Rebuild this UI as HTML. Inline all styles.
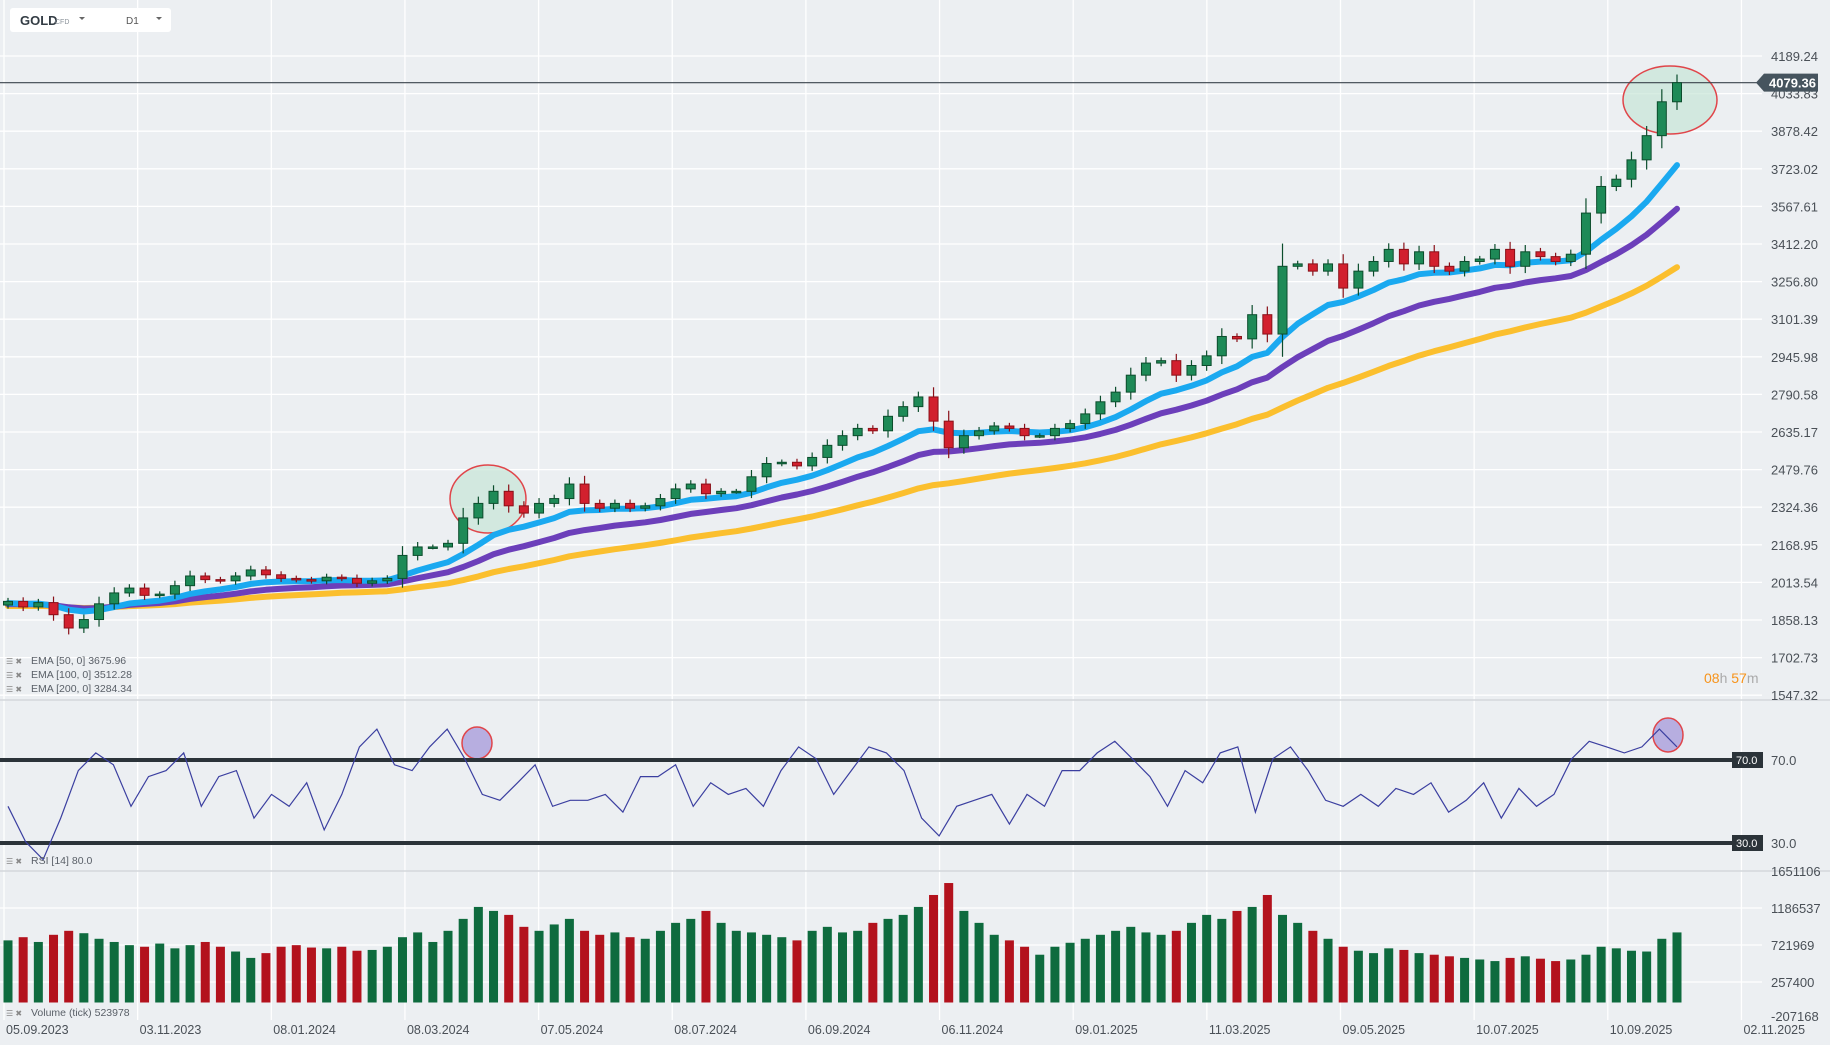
<!DOCTYPE html>
<html><head><meta charset="utf-8">
<style>
html,body{margin:0;padding:0;background:#eceff2;}
svg{display:block;font-family:"Liberation Sans",sans-serif;}
</style></head>
<body>
<svg id="chart" width="1830" height="1045" viewBox="0 0 1830 1045" xmlns="http://www.w3.org/2000/svg">
<rect x="0" y="0" width="1830" height="1045" fill="#eceff2"/>
<g id="grid"></g>
<g id="overlay">
  <ellipse cx="488" cy="499" rx="38" ry="34" fill="rgba(200,230,215,0.7)" stroke="#e0454a" stroke-width="1.5"/>
  <ellipse cx="1670" cy="100" rx="47" ry="34" fill="rgba(200,230,215,0.7)" stroke="#e0454a" stroke-width="1.5"/>
  <ellipse cx="477" cy="743" rx="15" ry="16" fill="rgba(140,120,210,0.55)" stroke="#e0454a" stroke-width="1.5"/>
  <ellipse cx="1668" cy="735" rx="15" ry="17" fill="rgba(140,120,210,0.55)" stroke="#e0454a" stroke-width="1.5"/>
</g>
<g id="priceAxis"></g>
<g id="emas"></g>
<g id="candles"></g>
<g id="rsi"></g>
<g id="volume"></g>
<g id="dates"></g>
<g>
  <rect x="10" y="8" width="161" height="24" rx="3" fill="#ffffff"/>
  <text x="20" y="25" font-size="13" font-weight="bold" fill="#333c44">GOLD</text>
  <text x="55" y="24" font-size="7" fill="#8a9199">CFD</text>
  <path d="M79 17 l6 0 l-3 3 z" fill="#666"/>
  <text x="126" y="24" font-size="10" fill="#555">D1</text>
  <path d="M156 17 l6 0 l-3 3 z" fill="#666"/>
</g>
<g font-size="10.5" fill="#5a6068">
  <text x="6" y="664" font-size="8" fill="#888">☰ ✖</text><text x="31" y="664">EMA [50, 0] 3675.96</text>
  <text x="6" y="678" font-size="8" fill="#888">☰ ✖</text><text x="31" y="678">EMA [100, 0] 3512.28</text>
  <text x="6" y="692" font-size="8" fill="#888">☰ ✖</text><text x="31" y="692">EMA [200, 0] 3284.34</text>
  <text x="6" y="864" font-size="8" fill="#888">☰ ✖</text><text x="31" y="864">RSI [14] 80.0</text>
  <text x="6" y="1016" font-size="8" fill="#888">☰ ✖</text><text x="31" y="1016">Volume (tick) 523978</text>
</g>
<text x="1704" y="683" font-size="14"><tspan fill="#f7931a">08</tspan><tspan fill="#aaa">h </tspan><tspan fill="#f7931a">57</tspan><tspan fill="#aaa">m</tspan></text>
</svg>
<script>
const closes=[1935,1912,1930,1880,1825,1860,1925,1970,1990,1960,1965,2000,2040,2025,2020,2040,2065,2045,2030,2025,2020,2035,2030,2010,2020,2030,2125,2160,2160,2175,2280,2340,2390,2330,2300,2340,2360,2420,2340,2320,2340,2320,2330,2360,2400,2420,2380,2390,2390,2450,2505,2510,2495,2530,2580,2620,2650,2640,2700,2740,2780,2680,2570,2620,2640,2660,2650,2620,2620,2650,2670,2710,2760,2800,2870,2920,2930,2870,2910,2950,3030,3020,3120,3040,3320,3330,3300,3330,3230,3300,3340,3390,3330,3380,3320,3300,3340,3350,3390,3320,3380,3360,3340,3370,3540,3650,3680,3760,3860,4000,4079];
const volumes=[780,820,760,850,900,870,800,760,720,700,740,680,720,760,700,640,560,620,700,720,690,680,700,650,660,700,820,880,760,900,1050,1200,1150,1100,950,900,980,1050,900,850,880,820,800,900,1000,1050,1150,1000,900,880,850,820,780,900,950,880,900,1000,1050,1100,1200,1350,1500,1150,1000,850,780,700,600,700,750,800,850,900,950,880,850,900,1000,1100,1050,1150,1200,1350,1100,1000,900,800,700,650,620,680,660,620,600,580,560,540,520,560,580,550,520,540,600,700,680,650,640,800,880];
const rsiValues=[47.7,30.6,22,42,64.9,73.4,67.7,47.7,62,64.9,73.4,47.7,62,64.9,42,53.4,47.7,59,36.3,53.4,76.3,84.9,67.7,64.9,76.3,84.9,70.6,53.4,50.6,59,67.7,47.7,50.6,50.6,53.4,44.9,62,62,67.7,47.7,59,53.4,56.3,47.7,64.9,76.3,70.6,53.4,64.9,76.3,73.4,64.9,42,33.4,47.7,50.6,53.4,39.1,53.4,47.7,64.9,64.9,73.4,79,70.6,62,47.7,64.9,59,73.4,76.3,44.9,70.6,76.3,64.9,50.6,47.7,53.4,47.7,56.3,53.4,59,44.9,50.6,59,42,56.3,47.7,53.4,70.6,79,76.3,73.4,76.3,84.9,76.3];
const priceTicks=["4189.24","4033.83","3878.42","3723.02","3567.61","3412.20","3256.80","3101.39","2945.98","2790.58","2635.17","2479.76","2324.36","2168.95","2013.54","1858.13","1702.73","1547.32"];
const dateLabels=["05.09.2023","03.11.2023","08.01.2024","08.03.2024","07.05.2024","08.07.2024","06.09.2024","06.11.2024","09.01.2025","11.03.2025","09.05.2025","10.07.2025","10.09.2025","02.11.2025"];
const volTicks=["1651106","1186537","721969","257400","-207168"];
const emaPeriods=[50,100,200];
const emaStart=[1928,1924,1916];

const NS="http://www.w3.org/2000/svg";
function mk(tag,attrs,parent,text){const e=document.createElementNS(NS,tag);for(const k in attrs)e.setAttribute(k,attrs[k]);if(text!==undefined)e.textContent=text;parent.appendChild(e);return e;}
const X0=8,X1=1677;
const xs=i=>X0+i*(X1-X0)/(closes.length-1);
const yP=v=>56+(4189.24-v)/155.41*37.6;
const yR=v=>843-(v-30)/40*83;
const yV=v=>1002.5-v/464568*37;

const grid=document.getElementById('grid');
for(let k=0;k<14;k++){const x=4+k*133.65;
  const l=mk('line',{x1:x,y1:0,x2:x,y2:1020,stroke:'#ffffff','stroke-width':1.3},grid);
  }
const pa=document.getElementById('priceAxis');
priceTicks.forEach(t=>{const y=yP(parseFloat(t));
  const l=mk('line',{x1:0,y1:y,x2:1762,y2:y,stroke:'#ffffff','stroke-width':1.3},grid);
  
  const tx=mk('text',{x:1771,y:y+5,'font-size':13,fill:'#4a5057'},pa,t);
  });
[[700,'price-rsi-separator'],[871,'rsi-volume-separator']].forEach(s=>{const l=mk('line',{x1:0,y1:s[0],x2:1830,y2:s[0],stroke:'#d3d7db','stroke-width':1.5},grid);
  });
const vg=document.getElementById('volume');
volTicks.forEach(t=>{const v=parseFloat(t);const y=yV(v);
  if(v<1600000&&v>0){const l=mk('line',{x1:0,y1:y,x2:1762,y2:y,stroke:'#ffffff','stroke-width':1.3},grid);
  }
  const tx=mk('text',{x:1771,y:Math.min(y+5,1021),'font-size':13,fill:'#4a5057'},vg,t);
  });
const cur=closes[closes.length-1];
const cl=mk('line',{x1:0,y1:yP(cur),x2:1765,y2:yP(cur),stroke:'#3b454d','stroke-width':1.2},pa);

const cb=mk('path',{d:`M1756 ${yP(cur)} l8 -9 h54 v18 h-54 z`,fill:'#46545e'},pa);

const ct=mk('text',{x:1769,y:yP(cur)+5,'font-size':13,'font-weight':'bold',fill:'#fff'},pa,"4079.36");


const cg=document.getElementById('candles');
closes.forEach((c,i)=>{const o=i?closes[i-1]:1920;const up=c>=o;const x=xs(i);
  const wick=Math.abs(c-o)*0.3+10;
  const hi=Math.max(o,c)+wick,lo=Math.min(o,c)-wick;
  const col=up?'#1e8a57':'#d2202e',bor=up?'#0b4d2c':'#8a1018';
  const w=mk('line',{x1:x,y1:yP(hi),x2:x,y2:yP(lo),stroke:bor,'stroke-width':1.2},cg);
  
  const top=yP(Math.max(o,c)),bh=Math.max(1.5,yP(Math.min(o,c))-top);
  const r=mk('rect',{x:x-4.5,y:top,width:9,height:bh,fill:col,stroke:bor,'stroke-width':1},cg);
  
  const vv=volumes[i]*1000;
  const vb=mk('rect',{x:x-4.5,y:yV(vv),width:9,height:yV(0)-yV(vv),fill:up?'#0e6b3e':'#b3121d'},vg);
  
});
const eg=document.getElementById('emas');
const emaCols=['#1aa9f0','#6c3fba','#fbbf2e'];
const emaNames=['ema-50-line','ema-100-line','ema-200-line'];
[2,1,0].forEach(k=>{const a=2/(emaPeriods[k]/5+1);let e=emaStart[k];let d='';
  closes.forEach((c,i)=>{e=i?e+a*(c-e):e;d+=(i?'L':'M')+xs(i).toFixed(1)+' '+yP(e).toFixed(1);});
  const p=mk('path',{d:d,fill:'none',stroke:emaCols[k],'stroke-width':6,'stroke-linejoin':'round','stroke-linecap':'round'},eg);
  });

const rg=document.getElementById('rsi');
[70,30].forEach(v=>{const y=yR(v);
  const l=mk('line',{x1:0,y1:y,x2:1732,y2:y,stroke:'#2b3339','stroke-width':4},rg);
  
  const b=mk('rect',{x:1732,y:y-8,width:31,height:16,fill:'#2b3339'},rg);
  
  const t=mk('text',{x:1736,y:y+4,'font-size':11,fill:'#fff'},rg,v.toFixed(1));
  
  const t2=mk('text',{x:1771,y:y+5,'font-size':13,fill:'#4a5057'},rg,v.toFixed(1));
  });
let rd='';rsiValues.forEach((v,i)=>{const x=X0+i*(X1-X0)/(rsiValues.length-1);rd+=(i?'L':'M')+x.toFixed(1)+' '+yR(v).toFixed(1);});
const rp=mk('path',{d:rd,fill:'none',stroke:'#3b3fa0','stroke-width':1.2},rg);


const dg=document.getElementById('dates');
dateLabels.forEach((t,k)=>{const tx=mk('text',{x:4+k*133.65+2,y:1034,'font-size':12.5,fill:'#4a5057'},dg,t);
  });
</script>
</body></html>
